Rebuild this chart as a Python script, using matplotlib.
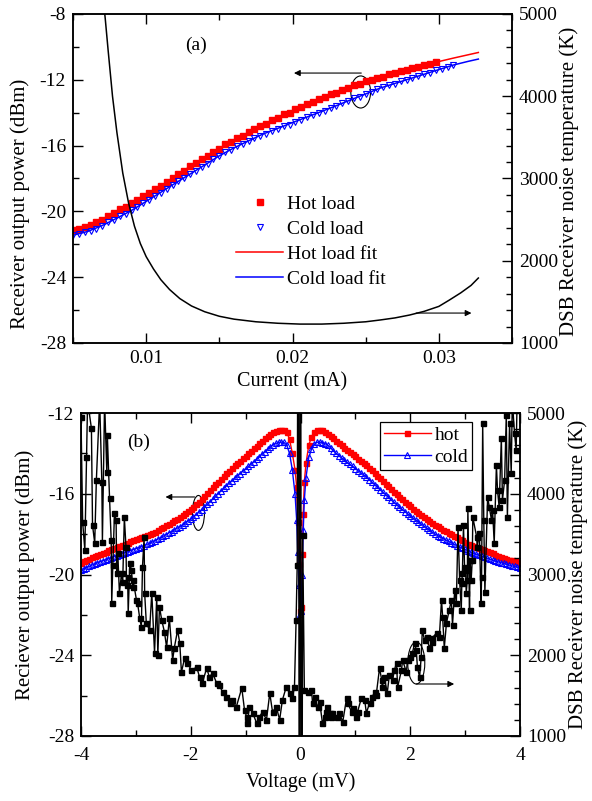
import matplotlib
matplotlib.use('Agg')
import matplotlib.pyplot as plt
from matplotlib.ticker import MultipleLocator, FormatStrFormatter
from matplotlib.patches import Ellipse

plt.rcParams['font.family'] = ['Liberation Serif', 'DejaVu Serif']
plt.rcParams['axes.unicode_minus'] = False
plt.rcParams['font.size'] = 14

# ---------------- Panel (a) data ----------------
current_hot = [0.0050, 0.0054, 0.0058, 0.0062, 0.0066, 0.0070, 0.0074, 0.0078, 0.0082, 0.0086,
               0.0090, 0.0094, 0.0098, 0.0102, 0.0106, 0.0110, 0.0114, 0.0118, 0.0122, 0.0126,
               0.0130, 0.0134, 0.0138, 0.0142, 0.0146, 0.0150, 0.0154, 0.0158, 0.0162, 0.0166,
               0.0170, 0.0174, 0.0178, 0.0182, 0.0186, 0.0190, 0.0194, 0.0198, 0.0202, 0.0206,
               0.0210, 0.0214, 0.0218, 0.0222, 0.0226, 0.0230, 0.0234, 0.0238, 0.0242, 0.0246,
               0.0250, 0.0254, 0.0258, 0.0262, 0.0266, 0.0270, 0.0274, 0.0278, 0.0282, 0.0286,
               0.0290, 0.0294, 0.0298]
hot_power = [-21.15, -21.07, -20.93, -20.85, -20.67, -20.50, -20.27, -20.12, -19.88, -19.73,
             -19.49, -19.32, -19.06, -18.89, -18.64, -18.47, -18.19, -18.00, -17.72, -17.52,
             -17.24, -17.06, -16.80, -16.62, -16.36, -16.19, -15.93, -15.78, -15.55, -15.40,
             -15.17, -15.02, -14.80, -14.66, -14.45, -14.31, -14.10, -13.99, -13.79, -13.68,
             -13.48, -13.36, -13.17, -13.07, -12.88, -12.78, -12.59, -12.49, -12.34, -12.26,
             -12.10, -12.03, -11.87, -11.80, -11.66, -11.60, -11.46, -11.40, -11.26, -11.21,
             -11.08, -11.04, -10.91]

current_cold = [0.0050, 0.0054, 0.0058, 0.0062, 0.0066, 0.0070, 0.0074, 0.0078, 0.0082, 0.0086,
                0.0090, 0.0094, 0.0098, 0.0102, 0.0106, 0.0110, 0.0114, 0.0118, 0.0122, 0.0126,
                0.0130, 0.0134, 0.0138, 0.0142, 0.0146, 0.0150, 0.0154, 0.0158, 0.0162, 0.0166,
                0.0170, 0.0174, 0.0178, 0.0182, 0.0186, 0.0190, 0.0194, 0.0198, 0.0202, 0.0206,
                0.0210, 0.0214, 0.0218, 0.0222, 0.0226, 0.0230, 0.0234, 0.0238, 0.0242, 0.0246,
                0.0250, 0.0254, 0.0258, 0.0262, 0.0266, 0.0270, 0.0274, 0.0278, 0.0282, 0.0286,
                0.0290, 0.0294, 0.0298, 0.0302, 0.0306, 0.0310]
cold_power = [-21.45, -21.38, -21.26, -21.19, -21.04, -20.88, -20.67, -20.52, -20.31, -20.16,
              -19.93, -19.74, -19.49, -19.30, -19.05, -18.86, -18.61, -18.42, -18.16, -17.97,
              -17.72, -17.53, -17.28, -17.09, -16.84, -16.64, -16.39, -16.25, -16.05, -15.91,
              -15.70, -15.56, -15.39, -15.28, -15.11, -15.00, -14.83, -14.72, -14.55, -14.44,
              -14.27, -14.16, -13.99, -13.88, -13.71, -13.59, -13.42, -13.31, -13.13, -13.02,
              -12.85, -12.73, -12.56, -12.46, -12.32, -12.24, -12.09, -12.01, -11.87, -11.79,
              -11.65, -11.57, -11.43, -11.34, -11.20, -11.12]

fit_current = [0.005, 0.006, 0.007, 0.008, 0.009, 0.010, 0.011, 0.012, 0.013, 0.014,
               0.015, 0.016, 0.017, 0.018, 0.019, 0.020, 0.021, 0.022, 0.023, 0.024,
               0.025, 0.026, 0.027, 0.028, 0.029, 0.030, 0.031, 0.032, 0.0327]
hot_fit = [-21.20, -20.90, -20.50, -20.00, -19.51, -18.98, -18.45, -17.86, -17.26, -16.71,
           -16.17, -15.67, -15.19, -14.73, -14.29, -13.89, -13.50, -13.12, -12.76, -12.42,
           -12.12, -11.83, -11.58, -11.33, -11.10, -10.89, -10.68, -10.48, -10.34]
cold_fit = [-21.45, -21.22, -20.86, -20.41, -19.94, -19.39, -18.84, -18.28, -17.73, -17.18,
            -16.62, -16.14, -15.71, -15.29, -14.95, -14.60, -14.26, -13.92, -13.57, -13.21,
            -12.86, -12.50, -12.22, -11.94, -11.66, -11.38, -11.10, -10.88, -10.74]

noise_current_a = [0.0069, 0.0072, 0.0074, 0.0077, 0.0080, 0.0084, 0.0088, 0.0092, 0.0096, 0.0100,
                   0.0105, 0.0110, 0.0116, 0.0123, 0.0131, 0.0140, 0.0150, 0.0160, 0.0175, 0.0190,
                   0.0205, 0.0220, 0.0235, 0.0250, 0.0260, 0.0270, 0.0280, 0.0290, 0.0300, 0.0307,
                   0.0315, 0.0322, 0.0327]
noise_temp_a = [5450, 4950, 4560, 4000, 3560, 3067, 2700, 2420, 2210, 2050,
                1900, 1770, 1650, 1540, 1450, 1380, 1325, 1290, 1258, 1240,
                1230, 1230, 1240, 1258, 1280, 1305, 1340, 1385, 1445, 1520,
                1610, 1700, 1790]

# ---------------- Panel (b) data ----------------
voltage_b = [-4.00, -3.95, -3.90, -3.85, -3.80, -3.75, -3.70, -3.65, -3.60, -3.55,
             -3.50, -3.45, -3.40, -3.35, -3.30, -3.25, -3.20, -3.15, -3.10, -3.05,
             -3.00, -2.95, -2.90, -2.85, -2.80, -2.75, -2.70, -2.65, -2.60, -2.55,
             -2.50, -2.45, -2.40, -2.35, -2.30, -2.25, -2.20, -2.15, -2.10, -2.05,
             -2.00, -1.95, -1.90, -1.85, -1.80, -1.75, -1.70, -1.65, -1.60, -1.55,
             -1.50, -1.45, -1.40, -1.35, -1.30, -1.25, -1.20, -1.15, -1.10, -1.05,
             -1.00, -0.95, -0.90, -0.85, -0.80, -0.75, -0.70, -0.65, -0.60, -0.55,
             -0.50, -0.45, -0.40,
             -0.35, -0.30, -0.25, -0.20, -0.15, -0.10, -0.07, -0.05, -0.03, -0.01,
             0.01, 0.03, 0.05, 0.07, 0.10, 0.15, 0.20, 0.25, 0.30, 0.35,
             0.40, 0.45, 0.50, 0.55, 0.60, 0.65, 0.70, 0.75, 0.80, 0.85,
             0.90, 0.95, 1.00, 1.05, 1.10, 1.15, 1.20, 1.25, 1.30, 1.35,
             1.40, 1.45, 1.50, 1.55, 1.60, 1.65, 1.70, 1.75, 1.80, 1.85,
             1.90, 1.95, 2.00, 2.05, 2.10, 2.15, 2.20, 2.25, 2.30, 2.35,
             2.40, 2.45, 2.50, 2.55, 2.60, 2.65, 2.70, 2.75, 2.80, 2.85,
             2.90, 2.95, 3.00, 3.05, 3.10, 3.15, 3.20, 3.25, 3.30, 3.35,
             3.40, 3.45, 3.50, 3.55, 3.60, 3.65, 3.70, 3.75, 3.80, 3.85,
             3.90, 3.95, 4.00]
hot_b = [-19.42, -19.35, -19.28, -19.21, -19.14, -19.09, -19.03, -18.98, -18.92, -18.87,
         -18.81, -18.76, -18.70, -18.64, -18.58, -18.53, -18.47, -18.42, -18.36, -18.31,
         -18.26, -18.21, -18.16, -18.11, -18.05, -17.99, -17.93, -17.87, -17.80, -17.72,
         -17.64, -17.56, -17.48, -17.40, -17.32, -17.24, -17.15, -17.06, -16.96, -16.86,
         -16.75, -16.64, -16.52, -16.39, -16.25, -16.11, -15.97, -15.82, -15.68, -15.54,
         -15.40, -15.26, -15.12, -14.98, -14.85, -14.72, -14.60, -14.49, -14.38, -14.25,
         -14.12, -14.00, -13.88, -13.75, -13.62, -13.50, -13.38, -13.26, -13.15, -13.04,
         -12.95, -12.90, -12.86,
         -12.84, -12.86, -12.95, -13.30, -13.98, -14.80, -15.65, -17.40, -19.50, -21.80,
         -21.60, -19.00, -17.00, -15.40, -14.50, -13.60, -13.19, -12.95, -12.85, -12.84,
         -12.86, -12.93, -13.02, -13.13, -13.25, -13.37, -13.48, -13.60, -13.72, -13.83,
         -13.94, -14.05, -14.15, -14.26, -14.37, -14.47, -14.58, -14.71, -14.84, -14.97,
         -15.10, -15.24, -15.37, -15.51, -15.64, -15.77, -15.90, -16.03, -16.16, -16.28,
         -16.40, -16.52, -16.63, -16.74, -16.85, -16.96, -17.06, -17.16, -17.26, -17.36,
         -17.45, -17.54, -17.62, -17.70, -17.78, -17.86, -17.93, -18.00, -18.07, -18.15,
         -18.22, -18.31, -18.40, -18.48, -18.55, -18.61, -18.66, -18.71, -18.76, -18.81,
         -18.86, -18.90, -18.95, -19.02, -19.08, -19.13, -19.18, -19.22, -19.26, -19.30,
         -19.34, -19.39, -19.43]
cold_b = [-19.78, -19.72, -19.66, -19.60, -19.53, -19.48, -19.42, -19.37, -19.32, -19.27,
          -19.22, -19.17, -19.12, -19.07, -19.02, -18.97, -18.92, -18.87, -18.82, -18.77,
          -18.72, -18.67, -18.62, -18.57, -18.51, -18.45, -18.39, -18.32, -18.25, -18.18,
          -18.10, -18.02, -17.94, -17.87, -17.79, -17.71, -17.63, -17.54, -17.45, -17.35,
          -17.25, -17.14, -17.03, -16.91, -16.79, -16.66, -16.53, -16.40, -16.26, -16.12,
          -15.99, -15.86, -15.73, -15.60, -15.48, -15.35, -15.23, -15.11, -15.00, -14.88,
          -14.76, -14.65, -14.53, -14.41, -14.29, -14.16, -14.04, -13.92, -13.80, -13.69,
          -13.58, -13.51, -13.46,
          -13.44, -13.46, -13.60, -14.00, -14.80, -16.00, -17.30, -18.90, -20.50, -21.95,
          -21.80, -20.00, -17.80, -16.30, -15.20, -14.20, -13.80, -13.55, -13.45, -13.44,
          -13.47, -13.52, -13.60, -13.73, -13.88, -14.00, -14.12, -14.23, -14.34, -14.45,
          -14.55, -14.65, -14.75, -14.86, -14.96, -15.06, -15.17, -15.30, -15.42, -15.55,
          -15.67, -15.80, -15.92, -16.05, -16.17, -16.30, -16.42, -16.54, -16.66, -16.77,
          -16.88, -16.99, -17.10, -17.20, -17.30, -17.40, -17.50, -17.60, -17.70, -17.80,
          -17.90, -17.99, -18.07, -18.15, -18.22, -18.29, -18.36, -18.43, -18.50, -18.57,
          -18.63, -18.70, -18.76, -18.82, -18.88, -18.94, -18.99, -19.04, -19.09, -19.14,
          -19.19, -19.24, -19.28, -19.33, -19.37, -19.41, -19.45, -19.49, -19.53, -19.57,
          -19.60, -19.64, -19.68]

noise_v_b = [-4.00, -3.97, -3.93, -3.90, -3.88, -3.81, -3.79, -3.75, -3.72, -3.66,
             -3.62, -3.61, -3.57, -3.53, -3.52, -3.48, -3.45, -3.44, -3.42, -3.39,
             -3.36, -3.35, -3.33, -3.30, -3.26, -3.24, -3.21, -3.18, -3.17, -3.15,
             -3.14, -3.11, -3.08, -3.06, -3.05, -2.99, -2.97, -2.93, -2.90, -2.88,
             -2.85, -2.84, -2.81, -2.75, -2.71, -2.66, -2.62, -2.60, -2.57, -2.53,
             -2.48, -2.44, -2.39, -2.33, -2.30, -2.24, -2.20, -2.17, -2.11, -2.06,
             -1.99, -1.89, -1.84, -1.79, -1.71, -1.66, -1.60, -1.53, -1.48, -1.42,
             -1.35, -1.29, -1.24, -1.17, -1.07, -1.02, -0.98, -0.97, -0.93, -0.87,
             -0.80, -0.75, -0.69, -0.62, -0.56, -0.51, -0.44, -0.38, -0.33, -0.26,
             -0.20, -0.15, -0.11, -0.08, -0.06, -0.04, -0.02, 0.00, 0.02, 0.04,
             0.07, 0.13, 0.20, 0.22, 0.26, 0.31, 0.35, 0.40, 0.44, 0.47,
             0.49, 0.53, 0.56, 0.58, 0.66, 0.71, 0.77, 0.84, 0.86, 0.93,
             0.95, 1.02, 1.04, 1.11, 1.17, 1.20, 1.26, 1.31, 1.35, 1.38,
             1.44, 1.48, 1.49, 1.53, 1.58, 1.62, 1.68, 1.71, 1.75, 1.77,
             1.84, 1.86, 1.93, 1.95, 1.99, 2.04, 2.08, 2.11, 2.13, 2.17,
             2.20, 2.22, 2.26, 2.30, 2.35, 2.39, 2.40, 2.48, 2.53, 2.57,
             2.59, 2.62, 2.66, 2.71, 2.75, 2.77, 2.81, 2.84, 2.87, 2.90,
             2.93, 2.94, 2.95, 2.97, 2.99, 3.01, 3.02, 3.04, 3.05, 3.08,
             3.09, 3.11, 3.13, 3.14, 3.21, 3.22, 3.26, 3.29, 3.30, 3.32,
             3.34, 3.36, 3.41, 3.44, 3.48, 3.50, 3.53, 3.57, 3.59, 3.62,
             3.66, 3.68, 3.72, 3.75, 3.77, 3.81, 3.84, 3.86, 3.90, 3.93,
             3.95, 4.00]
noise_t_b = [4950, 3650, 3300, 4450, 5150, 4810, 3610, 3390, 4170, 5150,
             4145, 3400, 5150, 4270, 4730, 3950, 3430, 2650, 3120, 3760,
             3670, 3020, 3270, 2770, 3020, 2910, 3710, 3340, 2870, 2970,
             2520, 3140, 3055, 2845, 2930, 2685, 2650, 2460, 2350, 3090,
             3460, 2770, 2400, 2310, 2770, 2030, 2720, 2000, 2600, 2440,
             2290, 2100, 2460, 1940, 2090, 2310, 2150, 1790, 1970, 1900,
             1820, 1850, 1730, 1655, 1840, 1730, 1780, 1655, 1630, 1545,
             1485, 1410, 1445, 1360, 1595, 1320, 1235, 1160, 1360, 1285,
             1160, 1235, 1300, 1200, 1530, 1300, 1360, 1200, 1445, 1605,
             1530, 1470, 1605, 2440, 3120, 9000, -3000, 9000, -3000, 3490,
             1570, 1545, 1570, 1410, 1485, 1360, 1420, 1160, 1235, 1300,
             1360, 1285, 1235, 1285, 1235, 1285, 1175, 1470, 1410, 1300,
             1345, 1235, 1300, 1470, 1445, 1285, 1410, 1485, 1545, 1510,
             1840, 1695, 1605, 1730, 1530, 1755, 1695, 1815, 1905, 1605,
             1815, 1940, 1790, 1940, 1980, 2030, 2150, 2065, 1855, 1730,
             1980, 2310, 2190, 2225, 2090, 2165, 2215, 2275, 2225, 2685,
             2475, 2090, 2400, 2560, 2685, 2375, 2805, 2645, 3590, 2930,
             2560, 2895, 3020, 3610, 3090, 3055, 2770, 2930, 3820, 2560,
             3180, 2930, 3180, 3710, 3465, 3340, 3515, 2650, 2970, 4875,
             3675, 2785, 3960, 3835, 3675, 3800, 3390, 4355, 4045, 3835,
             4690, 3920, 4170, 4975, 3710, 4875, 4255, 5150, 4750, 4540,
             5250, 5300]

# ---------------- Figure ----------------
fig = plt.figure(figsize=(5.92, 8.01), dpi=100)
ax1 = fig.add_axes([73/592, 1-343/801, 439/592, 329/801])
ax1r = ax1.twinx()
ax2 = fig.add_axes([81/592, 1-736/801, 439/592, 323/801])
ax2r = ax2.twinx()

RED = '#ff0000'
BLUE = '#0000ff'
LABEL_FS = 15


def style_axes(ax, axr, xpad=5):
    for a in (ax, axr):
        for s in a.spines.values():
            s.set_linewidth(1.1)
    ax.tick_params(which='both', direction='in', top=True, right=False, width=1.0, pad=5,
                   labelsize=14)
    ax.tick_params(axis='x', which='both', pad=xpad)
    ax.tick_params(which='major', length=7)
    ax.tick_params(which='minor', length=4)
    axr.tick_params(which='both', direction='in', width=1.0, pad=5, labelsize=14)
    axr.tick_params(which='major', length=7)
    axr.tick_params(which='minor', length=4)


# ---- panel (a)
hp, = ax1.plot(current_hot, hot_power, ls='none', marker='s', ms=4.2, color=RED,
               mec=RED, label='Hot load')
cp, = ax1.plot(current_cold, cold_power, ls='none', marker='v', ms=4.4, mfc='none',
               mec=BLUE, mew=0.8, label='Cold load')
hf, = ax1.plot(fit_current, hot_fit, color=RED, lw=1.1, label='Hot load fit')
cf, = ax1.plot(fit_current, cold_fit, color=BLUE, lw=1.1, label='Cold load fit')
ax1r.plot(noise_current_a, noise_temp_a, color='black', lw=1.1)

ax1.set_xlim(0.005, 0.035)
ax1.set_ylim(-28, -8)
ax1r.set_ylim(1000, 5000)
ax1.xaxis.set_major_locator(MultipleLocator(0.01))
ax1.xaxis.set_minor_locator(MultipleLocator(0.005))
ax1.xaxis.set_major_formatter(FormatStrFormatter('%g'))
ax1.yaxis.set_major_locator(MultipleLocator(4))
ax1.yaxis.set_minor_locator(MultipleLocator(2))
ax1r.yaxis.set_major_locator(MultipleLocator(1000))
ax1r.yaxis.set_minor_locator(MultipleLocator(200))
style_axes(ax1, ax1r)

ax1.set_xlabel('Current (mA)', fontsize=14.5)
ax1.xaxis.set_label_coords(0.5, -0.09)
ax1.set_ylabel('Receiver output power (dBm)', fontsize=LABEL_FS)
ax1.yaxis.set_label_coords(-0.098, 0.4225)
ax1r.set_ylabel('DSB Receiver noise temperature (K)', fontsize=LABEL_FS)
ax1r.yaxis.set_label_coords(1.108, 0.49)

ax1.text(0.28, 0.905, '(a)', transform=ax1.transAxes, fontsize=14, ha='center', va='center')
leg1 = ax1.legend(handles=[hp, cp, hf, cf], loc='upper left', bbox_to_anchor=(0.372, 0.448),
                  frameon=False, fontsize=14, numpoints=1, handlelength=2.4,
                  handletextpad=0.2, labelspacing=0.38, borderaxespad=0, borderpad=0)

ax1.add_patch(Ellipse((0.02466, -12.74), 0.00135, 1.95, fill=False, ec='black', lw=0.8))
ax1.annotate('', xy=(0.0201, -11.59), xytext=(0.0247, -11.59),
             arrowprops=dict(arrowstyle='-|>', color='black', lw=0.8, mutation_scale=9,
                             shrinkA=0, shrinkB=0))
ax1r.annotate('', xy=(0.03223, 1364), xytext=(0.02845, 1364),
              arrowprops=dict(arrowstyle='-|>', color='black', lw=0.8, mutation_scale=9,
                              shrinkA=0, shrinkB=0))

# ---- panel (b)
hb, = ax2.plot(voltage_b, hot_b, color=RED, lw=1.0, marker='s', ms=3.6, mec=RED, label='hot')
cb, = ax2.plot(voltage_b, cold_b, color=BLUE, lw=1.0, marker='^', ms=4.2, mfc='none',
               mec=BLUE, mew=0.8, label='cold')
ax2r.plot(noise_v_b, noise_t_b, color='black', lw=1.0, marker='s', ms=3.6)

ax2.set_xlim(-4, 4)
ax2.set_ylim(-28, -12)
ax2r.set_ylim(1000, 5000)
ax2.xaxis.set_major_locator(MultipleLocator(2))
ax2.xaxis.set_minor_locator(MultipleLocator(1))
ax2.yaxis.set_major_locator(MultipleLocator(4))
ax2.yaxis.set_minor_locator(MultipleLocator(2))
ax2r.yaxis.set_major_locator(MultipleLocator(1000))
ax2r.yaxis.set_minor_locator(MultipleLocator(200))
style_axes(ax2, ax2r, xpad=8)

ax2.set_xlabel('Voltage (mV)', fontsize=14.5)
ax2.xaxis.set_label_coords(0.5, -0.113)
ax2.set_ylabel('Reciever output power (dBm)', fontsize=LABEL_FS)
ax2.yaxis.set_label_coords(-0.105, 0.5)
ax2r.set_ylabel('DSB Receiver noise temperature (K)', fontsize=LABEL_FS)
ax2r.yaxis.set_label_coords(1.11, 0.5)

ax2.text(0.13, 0.91, '(b)', transform=ax2.transAxes, fontsize=14, ha='center', va='center')
leg2 = ax2.legend(handles=[hb, cb], loc='upper right', bbox_to_anchor=(0.891, 0.972),
                  fontsize=14, numpoints=1, handlelength=2.4, handletextpad=0.2,
                  labelspacing=0.25, borderaxespad=0, borderpad=0.2, fancybox=False,
                  edgecolor='black', framealpha=1)
leg2.get_frame().set_linewidth(0.9)

ax2.add_patch(Ellipse((-1.86, -16.95), 0.22, 1.73, fill=False, ec='black', lw=0.8))
ax2.annotate('', xy=(-2.46, -16.16), xytext=(-1.93, -16.16),
             arrowprops=dict(arrowstyle='-|>', color='black', lw=0.8, mutation_scale=9,
                             shrinkA=0, shrinkB=0))
ax2r.add_patch(Ellipse((2.11, 1904), 0.31, 520, fill=False, ec='black', lw=0.8))
ax2r.annotate('', xy=(2.8, 1644), xytext=(2.11, 1644),
              arrowprops=dict(arrowstyle='-|>', color='black', lw=0.8, mutation_scale=9,
                              shrinkA=0, shrinkB=0))

fig.savefig('out.png', dpi=100)
